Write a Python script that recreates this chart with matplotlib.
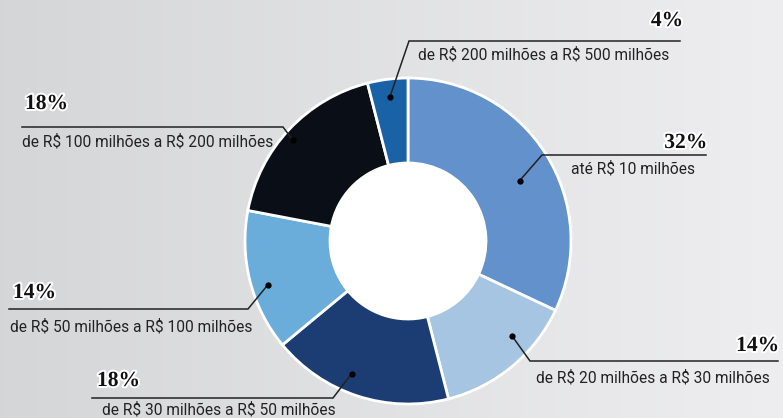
import numpy as np
import matplotlib
matplotlib.use("Agg")
import matplotlib.pyplot as plt
import matplotlib.patheffects as pe

# Data
labels = [
    "até R$ 10 milhões",
    "de R$ 20 milhões a R$ 30 milhões",
    "de R$ 30 milhões a R$ 50 milhões",
    "de R$ 50 milhões a R$ 100 milhões",
    "de R$ 100 milhões a R$ 200 milhões",
    "de R$ 200 milhões a R$ 500 milhões",
]
values = [32, 14, 18, 14, 18, 4]
colors = ["#6291CB", "#A5C5E3", "#1C3D74", "#6BADDA", "#0A0E16", "#1A62A6"]

W, H = 783, 418
CX, CY, R, RIN = 408, 241, 163, 78  # pixel coords, y from top

# leader layout (pixel coords from top): elbow, line end, pct anchor, label anchor, dot tweak
layout = [
    dict(elbow=(542, 155), end=706, pct=(707, 143, "right"), lab=(571, 169), dang=-4, dr=127),
    dict(elbow=(530, 361), end=778, pct=(779, 346, "right"), lab=(536, 378), dang=8, dr=141),
    dict(elbow=(333, 398), end=92, pct=(97, 381, "left"), lab=(102, 410), dang=-5, dr=144),
    dict(elbow=(248, 309), end=9, pct=(13, 293, "left"), lab=(10, 327), dang=3, dr=147),
    dict(elbow=(283, 127), end=22, pct=(25, 104, "left"), lab=(22, 142), dang=2, dr=153),
    dict(elbow=(409, 41), end=680, pct=(683, 21, "right"), lab=(418, 55), dang=0, dr=145),
]

fig = plt.figure(figsize=(W / 100, H / 100), dpi=100)
ax = fig.add_axes([0, 0, 1, 1])

# background gradient
grad = np.linspace(0, 1, 256)[None, :]
c0 = np.array([0.835, 0.839, 0.847])
c1 = np.array([0.933, 0.933, 0.941])
img = c0[None, None, :] + (c1 - c0)[None, None, :] * grad[..., None]
ax.imshow(img, extent=(0, W, 0, H), aspect="auto", zorder=0)

wedges, _ = ax.pie(values, colors=colors, startangle=90, counterclock=False,
                   center=(CX, H - CY), radius=R,
                   wedgeprops=dict(width=R - RIN, edgecolor="white", linewidth=2))
ax.add_patch(plt.Circle((CX, H - CY), RIN, color="white", zorder=1))

for w, val, lab, lo in zip(wedges, values, labels, layout):
    mid = np.deg2rad((w.theta1 + w.theta2) / 2 + lo["dang"])
    dx = CX + lo["dr"] * np.cos(mid)
    dy = (H - CY) + lo["dr"] * np.sin(mid)
    ex, ey = lo["elbow"]
    ax.plot([dx, ex, lo["end"]], [dy, H - ey, H - ey], color="#222222", lw=1.1,
            solid_joinstyle="miter", zorder=3)
    ax.plot(dx, dy, "o", color="black", ms=3.5, zorder=4)
    px, py, ha = lo["pct"]
    ax.text(px, H - py, f"{val}%", ha=ha, va="center", fontsize=15.5,
            family="Liberation Serif", fontweight="bold", color="#111111",
            path_effects=[pe.withStroke(linewidth=3, foreground="white")], zorder=5)
    lx, ly = lo["lab"]
    ax.text(lx, H - ly, lab, ha="left", va="center", fontsize=11.2,
            family="Roboto", color="#222222", zorder=5, parse_math=False)

ax.set_xlim(0, W)
ax.set_ylim(0, H)
ax.set_aspect("auto")
ax.axis("off")

fig.savefig("out.png", dpi=100)
